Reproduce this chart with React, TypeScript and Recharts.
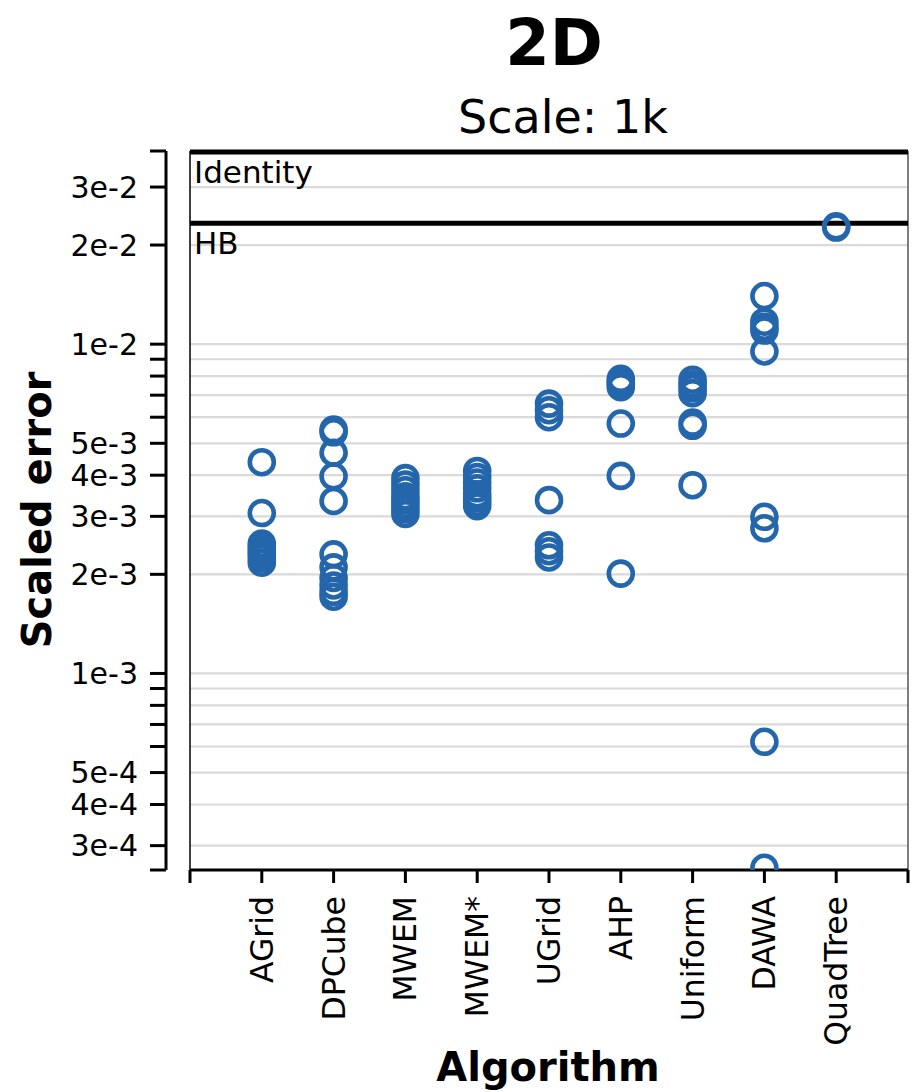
import React from 'react';
import { ScatterChart, Scatter, XAxis, YAxis, CartesianGrid, ReferenceLine } from 'recharts';

// Algorithms along the x axis, in display order
const algorithms = ['AGrid', 'DPCube', 'MWEM', 'MWEM*', 'UGrid', 'AHP', 'Uniform', 'DAWA', 'QuadTree'];

// Scaled error per dataset, one list per algorithm
const agridErrors = [4.38e-3, 3.07e-3, 2.48e-3, 2.42e-3, 2.36e-3, 2.3e-3, 2.24e-3, 2.17e-3];
const dpcubeErrors = [5.5e-3, 5.4e-3, 4.68e-3, 3.97e-3, 3.34e-3, 2.3e-3, 2.1e-3, 1.95e-3, 1.85e-3, 1.77e-3, 1.71e-3];
const mwemErrors = [3.92e-3, 3.75e-3, 3.6e-3, 3.45e-3, 3.35e-3, 3.25e-3, 3.15e-3, 3.05e-3];
const mwemStarErrors = [4.12e-3, 3.95e-3, 3.8e-3, 3.65e-3, 3.5e-3, 3.4e-3, 3.3e-3, 3.22e-3];
const ugridErrors = [6.6e-3, 6.3e-3, 6.0e-3, 3.36e-3, 2.45e-3, 2.35e-3, 2.25e-3];
const ahpErrors = [7.85e-3, 7.7e-3, 7.55e-3, 7.4e-3, 5.74e-3, 3.98e-3, 2.01e-3];
const uniformErrors = [7.8e-3, 7.55e-3, 7.35e-3, 7.1e-3, 5.78e-3, 5.65e-3, 3.73e-3];
const dawaErrors = [1.4e-2, 1.17e-2, 1.13e-2, 1.1e-2, 9.5e-3, 2.99e-3, 2.76e-3, 6.2e-4, 2.57e-4];
const quadtreeErrors = [2.28e-2, 2.26e-2];

const errorsByAlgorithm = [
  agridErrors, dpcubeErrors, mwemErrors, mwemStarErrors, ugridErrors,
  ahpErrors, uniformErrors, dawaErrors, quadtreeErrors,
];

// Baseline algorithms drawn as horizontal rules
const identityError = 3.83e-2;
const hbError = 2.33e-2;

// Log-scale y axis
const yDomain = [2.53e-4, 3.86e-2];
const yLabeledTicks = [3e-2, 2e-2, 1e-2, 5e-3, 4e-3, 3e-3, 2e-3, 1e-3, 5e-4, 4e-4, 3e-4];
const yTickLabels = ['3e-2', '2e-2', '1e-2', '5e-3', '4e-3', '3e-3', '2e-3', '1e-3', '5e-4', '4e-4', '3e-4'];
const yMinorTicks = [9e-3, 8e-3, 7e-3, 6e-3, 9e-4, 8e-4, 7e-4, 6e-4];
const yTicks = [yDomain[1], ...yLabeledTicks, ...yMinorTicks, yDomain[0]].sort((a, b) => b - a);

const xTicks = [0, 1, 2, 3, 4, 5, 6, 7, 8, 9, 10];

const points = errorsByAlgorithm.flatMap((list, i) =>
  list.map((y) => ({ x: i + 1, y, algorithm: algorithms[i] }))
);

const FONT = '"DejaVu Sans", Verdana, sans-serif';
const BLUE = '#2466ac';

const labelFor = (v: number) => {
  const i = yLabeledTicks.findIndex((t) => Math.abs(t - v) / t < 1e-6);
  return i >= 0 ? yTickLabels[i] : '';
};

const ValueTick = (props: any) => {
  const { x, y, payload } = props;
  const text = labelFor(payload.value);
  if (!text) return <g />;
  return (
    <text x={x} y={y} dy="0.36em" textAnchor="end" fontFamily={FONT} fontSize={30} fill="#000">
      {text}
    </text>
  );
};

const CategoryTick = (props: any) => {
  const { x, y, payload } = props;
  const idx = Math.round(payload.value) - 1;
  const name = algorithms[idx];
  if (!name) return <g />;
  return (
    <text
      x={0}
      y={0}
      transform={`translate(${x + 11}, ${y}) rotate(-90)`}
      textAnchor="end"
      fontFamily={FONT}
      fontSize={31.5}
      fill="#000"
    >
      {name}
    </text>
  );
};

const ruleLabel = (text: string) => (p: any) => {
  const vb = p.viewBox || {};
  return (
    <text x={(vb.x ?? 0) + 4} y={(vb.y ?? 0) + 31} fontFamily={FONT} fontSize={31} fill="#000">
      {text}
    </text>
  );
};

const renderRing = (p: any) => (
  <circle cx={p.cx} cy={p.cy} r={12} fill="none" stroke={BLUE} strokeWidth={4.6} />
);

export default function App() {
  return (
    <div style={{ position: 'absolute', left: 0, top: 0, width: 916, height: 1092, background: '#fff' }}>
      <ScatterChart width={916} height={1092} margin={{ top: 151, right: 8, bottom: 0, left: 0 }}>
        <CartesianGrid horizontal vertical={false} stroke="#dadada" strokeWidth={2.2} />
        <XAxis
          type="number"
          dataKey="x"
          domain={[0, 10]}
          ticks={xTicks}
          interval={0}
          height={222}
          tickSize={13}
          tickMargin={13}
          allowDataOverflow
          axisLine={{ stroke: '#000', strokeWidth: 3 }}
          tickLine={{ stroke: '#000', strokeWidth: 3 }}
          tick={(p: any) => <CategoryTick {...p} />}
        />
        <YAxis
          type="number"
          dataKey="y"
          scale="log"
          domain={yDomain}
          ticks={yTicks}
          interval={0}
          width={190}
          tickSize={16}
          tickMargin={36}
          allowDataOverflow
          axisLine={{ stroke: '#000', strokeWidth: 3, transform: 'translate(-24 0)' }}
          tickLine={{ stroke: '#000', strokeWidth: 3, transform: 'translate(-24 0)' }}
          tick={(p: any) => <ValueTick {...p} />}
        />
        <ReferenceLine x={0} stroke="#000" strokeWidth={1.5} />
        <ReferenceLine x={10} stroke="#555" strokeWidth={1.5} />
        <ReferenceLine y={identityError} stroke="#000" strokeWidth={5} label={ruleLabel('Identity')} />
        <ReferenceLine y={hbError} stroke="#000" strokeWidth={5} label={ruleLabel('HB')} />
        <Scatter data={points} shape={renderRing} isAnimationActive={false} />
      </ScatterChart>
      <svg
        width={916}
        height={1092}
        style={{ position: 'absolute', left: 0, top: 0, pointerEvents: 'none' }}
      >
        <text x={554} y={65} textAnchor="middle" fontFamily={FONT} fontWeight="bold" fontSize={64}>
          2D
        </text>
        <text x={563} y={133} textAnchor="middle" fontFamily={FONT} fontSize={46}>
          Scale: 1k
        </text>
        <text
          transform="translate(51, 510) rotate(-90)"
          textAnchor="middle"
          fontFamily={FONT}
          fontWeight="bold"
          fontSize={40}
        >
          Scaled error
        </text>
        <text x={548} y={1081} textAnchor="middle" fontFamily={FONT} fontWeight="bold" fontSize={40}>
          Algorithm
        </text>
      </svg>
    </div>
  );
}
